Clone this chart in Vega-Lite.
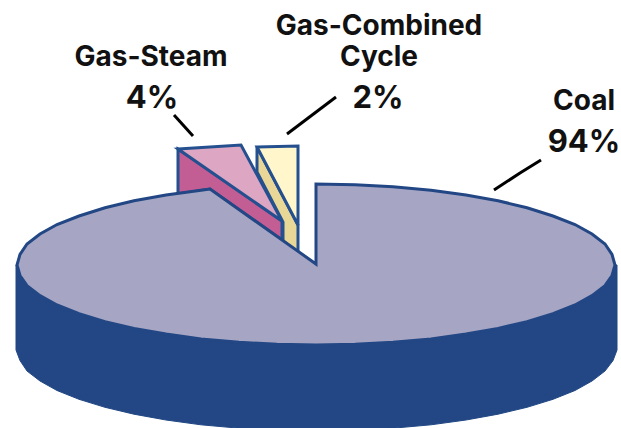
{"$schema":"https://vega.github.io/schema/vega-lite/v6.json","width":621,"height":428,"padding":0,"autosize":{"type":"none"},"background":"white","view":{"stroke":null},
"datasets":{"outline":[
{"s":"side","i":1,"x":16,"y":265},{"s":"side","i":2,"x":16,"y":350},{"s":"side","i":3,"x":20,"y":360.6},{"s":"side","i":4,"x":27,"y":371},{"s":"side","i":5,"x":40,"y":381},{"s":"side","i":6,"x":57,"y":390.5},{"s":"side","i":7,"x":79,"y":399.3},{"s":"side","i":8,"x":105,"y":407.3},{"s":"side","i":9,"x":134,"y":414.2},{"s":"side","i":10,"x":166,"y":420},{"s":"side","i":11,"x":201,"y":424.8},{"s":"side","i":12,"x":239,"y":428.2},{"s":"side","i":13,"x":277,"y":430.3},{"s":"side","i":14,"x":316,"y":431},{"s":"side","i":15,"x":355,"y":430.3},{"s":"side","i":16,"x":393,"y":428.2},{"s":"side","i":17,"x":431,"y":424.8},{"s":"side","i":18,"x":466,"y":420},{"s":"side","i":19,"x":498,"y":414.2},{"s":"side","i":20,"x":527,"y":407.3},{"s":"side","i":21,"x":553,"y":399.3},{"s":"side","i":22,"x":575,"y":390.5},{"s":"side","i":23,"x":592,"y":381},{"s":"side","i":24,"x":605,"y":371},{"s":"side","i":25,"x":613,"y":360.6},{"s":"side","i":26,"x":617,"y":350},{"s":"side","i":27,"x":617,"y":265},{"s":"side","i":28,"x":316,"y":265},
{"s":"steamSide","i":1,"x":178,"y":149},{"s":"steamSide","i":2,"x":282,"y":221},{"s":"steamSide","i":3,"x":282,"y":240},{"s":"steamSide","i":4,"x":210,"y":189},{"s":"steamSide","i":5,"x":178,"y":194},
{"s":"steamTop","i":1,"x":178,"y":149},{"s":"steamTop","i":2,"x":241,"y":145},{"s":"steamTop","i":3,"x":282,"y":221},
{"s":"ccSide","i":1,"x":257,"y":147},{"s":"ccSide","i":2,"x":298,"y":225},{"s":"ccSide","i":3,"x":298,"y":253},{"s":"ccSide","i":4,"x":283,"y":241},{"s":"ccSide","i":5,"x":283,"y":222},{"s":"ccSide","i":6,"x":257,"y":172},
{"s":"ccTop","i":1,"x":257,"y":147},{"s":"ccTop","i":2,"x":298,"y":146},{"s":"ccTop","i":3,"x":298,"y":225},
{"s":"coal","i":1,"x":316,"y":264},{"s":"coal","i":2,"x":316,"y":184},{"s":"coal","i":3,"x":355,"y":184.7},{"s":"coal","i":4,"x":393,"y":186.8},{"s":"coal","i":5,"x":431,"y":190.2},{"s":"coal","i":6,"x":466,"y":195},{"s":"coal","i":7,"x":498,"y":200.8},{"s":"coal","i":8,"x":527,"y":207.7},{"s":"coal","i":9,"x":553,"y":216},{"s":"coal","i":10,"x":575,"y":224.5},{"s":"coal","i":11,"x":592,"y":234},{"s":"coal","i":12,"x":605,"y":244},{"s":"coal","i":13,"x":612,"y":254.4},{"s":"coal","i":14,"x":615,"y":265},{"s":"coal","i":15,"x":612,"y":275.5},{"s":"coal","i":16,"x":605,"y":285.7},{"s":"coal","i":17,"x":592,"y":295.6},{"s":"coal","i":18,"x":575,"y":305},{"s":"coal","i":19,"x":553,"y":313.7},{"s":"coal","i":20,"x":527,"y":321.6},{"s":"coal","i":21,"x":498,"y":328.4},{"s":"coal","i":22,"x":466,"y":334},{"s":"coal","i":23,"x":431,"y":338.9},{"s":"coal","i":24,"x":393,"y":342.2},{"s":"coal","i":25,"x":355,"y":344.3},{"s":"coal","i":26,"x":316,"y":345},{"s":"coal","i":27,"x":277,"y":344.3},{"s":"coal","i":28,"x":239,"y":342.2},{"s":"coal","i":29,"x":201,"y":338.9},{"s":"coal","i":30,"x":166,"y":334},{"s":"coal","i":31,"x":134,"y":328.4},{"s":"coal","i":32,"x":105,"y":321.6},{"s":"coal","i":33,"x":79,"y":313.7},{"s":"coal","i":34,"x":57,"y":305},{"s":"coal","i":35,"x":40,"y":295.6},{"s":"coal","i":36,"x":27,"y":285.7},{"s":"coal","i":37,"x":20,"y":275.5},{"s":"coal","i":38,"x":17,"y":265},{"s":"coal","i":39,"x":20,"y":254.4},{"s":"coal","i":40,"x":27,"y":244},{"s":"coal","i":41,"x":40,"y":234},{"s":"coal","i":42,"x":57,"y":224.5},{"s":"coal","i":43,"x":79,"y":216},{"s":"coal","i":44,"x":105,"y":207.7},{"s":"coal","i":45,"x":134,"y":200.8},{"s":"coal","i":46,"x":166,"y":195},{"s":"coal","i":47,"x":201,"y":190.2},{"s":"coal","i":48,"x":210,"y":189}
],
"leaders":[
{"s":"a","i":1,"x":174,"y":115},{"s":"a","i":2,"x":193,"y":136},
{"s":"b","i":1,"x":287,"y":134},{"s":"b","i":2,"x":336,"y":97},
{"s":"c","i":1,"x":494,"y":190},{"s":"c","i":2,"x":520,"y":173},{"s":"c","i":3,"x":541,"y":160}
],
"labels":[
{"t":"Gas-Steam","x":151,"y":66,"k":"name"},{"t":"4%","x":152,"y":108,"k":"pct"},
{"t":"Gas-Combined","x":379,"y":35,"k":"name"},{"t":"Cycle","x":379,"y":66,"k":"name"},{"t":"2%","x":378,"y":108,"k":"pct"},
{"t":"Coal","x":584,"y":110,"k":"name"},{"t":"94%","x":584,"y":152,"k":"pct"}
]},
"encoding":{
"x":{"field":"x","type":"quantitative","scale":{"domain":[0,621],"nice":false,"zero":false},"axis":null},
"y":{"field":"y","type":"quantitative","scale":{"domain":[428,0],"nice":false,"zero":false},"axis":null}},
"layer":[
{"data":{"name":"outline"},"transform":[{"filter":"datum.s==='side'"}],"mark":{"type":"line","interpolate":"linear-closed","fill":"#224784","stroke":"#224784","strokeWidth":1},"encoding":{"order":{"field":"i","type":"quantitative"}}},
{"data":{"name":"outline"},"transform":[{"filter":"datum.s==='steamSide'"}],"mark":{"type":"line","interpolate":"linear-closed","fill":"#C25E94","stroke":"#25508F","strokeWidth":3},"encoding":{"order":{"field":"i","type":"quantitative"}}},
{"data":{"name":"outline"},"transform":[{"filter":"datum.s==='steamTop'"}],"mark":{"type":"line","interpolate":"linear-closed","fill":"#DDA6C3","stroke":"#25508F","strokeWidth":3},"encoding":{"order":{"field":"i","type":"quantitative"}}},
{"data":{"name":"outline"},"transform":[{"filter":"datum.s==='ccSide'"}],"mark":{"type":"line","interpolate":"linear-closed","fill":"#E9D797","stroke":"#25508F","strokeWidth":3},"encoding":{"order":{"field":"i","type":"quantitative"}}},
{"data":{"name":"outline"},"transform":[{"filter":"datum.s==='ccTop'"}],"mark":{"type":"line","interpolate":"linear-closed","fill":"#FFF6CC","stroke":"#25508F","strokeWidth":3},"encoding":{"order":{"field":"i","type":"quantitative"}}},
{"data":{"name":"outline"},"transform":[{"filter":"datum.s==='coal'"}],"mark":{"type":"line","interpolate":"linear-closed","fill":"#A6A6C4","stroke":"#224784","strokeWidth":3,"strokeJoin":"miter"},"encoding":{"order":{"field":"i","type":"quantitative"}}},
{"data":{"name":"leaders"},"mark":{"type":"line","stroke":"black","strokeWidth":3},"encoding":{"detail":{"field":"s"},"order":{"field":"i","type":"quantitative"}}},
{"data":{"name":"labels"},"transform":[{"filter":"datum.k==='name'"}],"mark":{"type":"text","font":"Inter","fontWeight":"bold","fontSize":28,"baseline":"alphabetic","align":"center","fill":"#111111"},"encoding":{"text":{"field":"t"}}},
{"data":{"name":"labels"},"transform":[{"filter":"datum.k==='pct'"}],"mark":{"type":"text","font":"Inter","fontWeight":"bold","fontSize":31,"baseline":"alphabetic","align":"center","fill":"#111111"},"encoding":{"text":{"field":"t"}}}
]}
